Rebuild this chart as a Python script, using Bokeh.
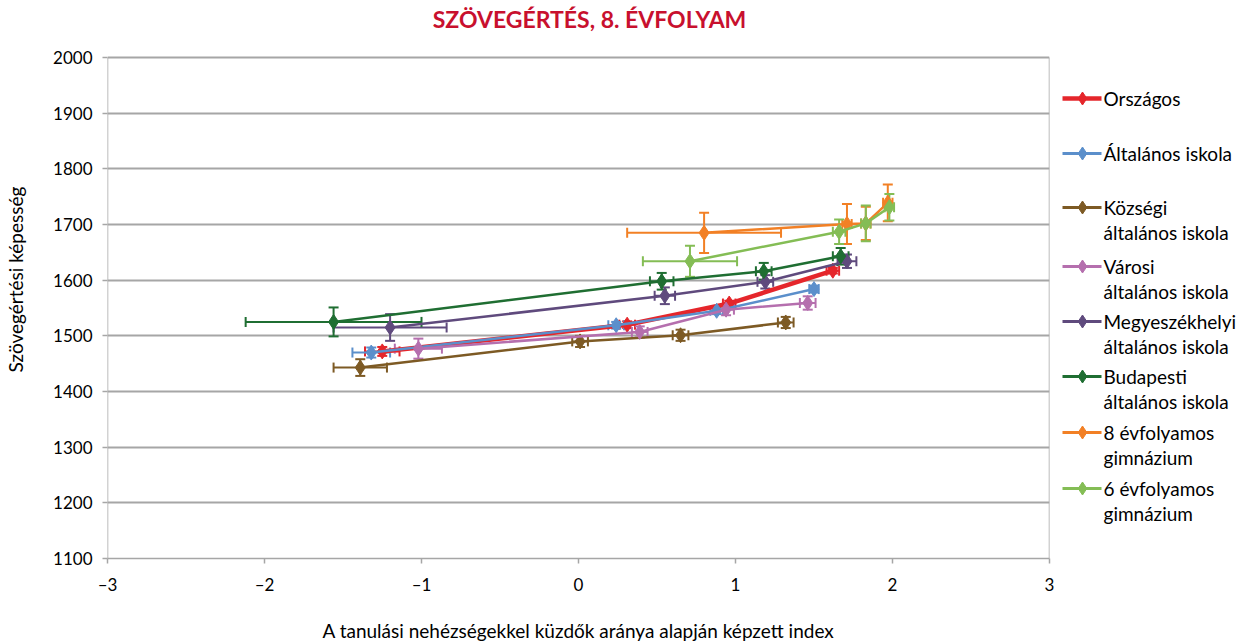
from bokeh.plotting import figure
from bokeh.layouts import row
from bokeh.models import (ColumnDataSource, Whisker, TeeHead, Range1d, FixedTicker)
from bokeh.core.properties import value
from bokeh.embed import file_html
from bokeh.resources import INLINE

# ---------------- data ----------------
series_names = ["Országos", "Általános iskola", "Községi általános iskola",
                "Városi általános iskola", "Megyeszékhelyi általános iskola",
                "Budapesti általános iskola", "8 évfolyamos gimnázium", "6 évfolyamos gimnázium"]
legend_lines = [["Országos"], ["Általános iskola"], ["Községi", "általános iskola"],
                ["Városi", "általános iskola"], ["Megyeszékhelyi", "általános iskola"],
                ["Budapesti", "általános iskola"], ["8 évfolyamos", "gimnázium"],
                ["6 évfolyamos", "gimnázium"]]
colors = ["#E5262B", "#5B8FCB", "#7D5A24", "#B56FAE", "#5F4A7D", "#1F6E32", "#F28025", "#84BD55"]

orszagos_x = [-1.25, 0.31, 0.96, 1.62]
orszagos_y = [1472, 1520, 1558, 1617]
orszagos_xerr = [0.11, 0.05, 0.04, 0.04]
orszagos_yerr = [8, 6, 5, 5]

altalanos_x = [-1.32, 0.24, 0.88, 1.50]
altalanos_y = [1470, 1519, 1545, 1584]
altalanos_xerr = [0.12, 0.05, 0.04, 0.03]
altalanos_yerr = [9, 6, 6, 6]

kozsegi_x = [-1.39, 0.01, 0.65, 1.32]
kozsegi_y = [1443, 1490, 1501, 1524]
kozsegi_xerr = [0.17, 0.05, 0.05, 0.05]
kozsegi_yerr = [15, 10, 10, 10]

varosi_x = [-1.02, 0.39, 0.94, 1.46]
varosi_y = [1477, 1507, 1547, 1559]
varosi_xerr = [0.15, 0.05, 0.05, 0.05]
varosi_yerr = [18, 10, 10, 12]

megyeszekhelyi_x = [-1.20, 0.55, 1.19, 1.71]
megyeszekhelyi_y = [1515, 1572, 1597, 1634]
megyeszekhelyi_xerr = [0.36, 0.065, 0.05, 0.06]
megyeszekhelyi_yerr = [24, 15, 12, 12]

budapesti_x = [-1.56, 0.53, 1.18, 1.67]
budapesti_y = [1525, 1598, 1616, 1643]
budapesti_xerr = [0.56, 0.075, 0.05, 0.05]
budapesti_yerr = [26, 15, 15, 15]

gimn8_x = [0.80, 1.71, 1.83, 1.97]
gimn8_y = [1685, 1701, 1702, 1739]
gimn8_xerr = [0.49, 0.03, 0.03, 0.03]
gimn8_yerr = [36, 36, 30, 33]

gimn6_x = [0.71, 1.66, 1.83, 1.98]
gimn6_y = [1634, 1687, 1702, 1731]
gimn6_xerr = [0.30, 0.04, 0.03, 0.03]
gimn6_yerr = [28, 22, 32, 24]

all_x = [orszagos_x, altalanos_x, kozsegi_x, varosi_x, megyeszekhelyi_x, budapesti_x, gimn8_x, gimn6_x]
all_y = [orszagos_y, altalanos_y, kozsegi_y, varosi_y, megyeszekhelyi_y, budapesti_y, gimn8_y, gimn6_y]
all_xerr = [orszagos_xerr, altalanos_xerr, kozsegi_xerr, varosi_xerr, megyeszekhelyi_xerr,
            budapesti_xerr, gimn8_xerr, gimn6_xerr]
all_yerr = [orszagos_yerr, altalanos_yerr, kozsegi_yerr, varosi_yerr, megyeszekhelyi_yerr,
            budapesti_yerr, gimn8_yerr, gimn6_yerr]
line_widths = [4.5, 2.5, 2.5, 2.5, 2.5, 2.5, 2.5, 2.5]

x_ticks = [-3, -2, -1, 0, 1, 2, 3]
x_tick_labels = ["–3", "–2", "–1", "0", "1", "2", "3"]
y_ticks = [1100, 1200, 1300, 1400, 1500, 1600, 1700, 1800, 1900, 2000]
x_min, x_max, y_min, y_max = -3, 3, 1100, 2000

title_text = "SZÖVEGÉRTÉS, 8. ÉVFOLYAM"
x_label = "A tanulási nehézségekkel küzdők aránya alapján képzett index"
y_label = "Szövegértési képesség"

FONT = "Lato"
FRAME_LEFT, FRAME_BOTTOM = 107, 86
AXIS_TOP_PX = 57          # page pixel where y = 2000 sits
MAIN_W, LEG_W, H = 1058, 183, 644
PLOT_H = H - FRAME_BOTTOM  # frame runs from page top down to the x axis
units_per_px = (y_max - y_min) / (PLOT_H - AXIS_TOP_PX)
y_top = y_max + AXIS_TOP_PX * units_per_px

# ---------------- main figure ----------------
p = figure(width=MAIN_W, height=H, output_backend="svg", toolbar_location=None,
           x_range=Range1d(x_min, x_max), y_range=Range1d(y_min, y_top),
           min_border_left=FRAME_LEFT, min_border_right=9,
           min_border_top=0, min_border_bottom=FRAME_BOTTOM)
p.outline_line_color = None
p.background_fill_color = "white"
p.border_fill_color = "white"

p.xgrid.visible = False
p.ygrid.grid_line_color = "#A6A6A6"
p.ygrid.grid_line_width = 2
p.ygrid.ticker = FixedTicker(ticks=y_ticks)

p.xaxis.ticker = FixedTicker(ticks=x_ticks)
p.xaxis.major_label_overrides = {t: l for t, l in zip(x_ticks, x_tick_labels)}
p.yaxis.ticker = FixedTicker(ticks=y_ticks)
for ax in (p.xaxis[0], p.yaxis[0]):
    ax.axis_line_color = "#A6A6A6"
    ax.axis_line_width = 1.5
    ax.major_tick_line_color = "#A6A6A6"
    ax.major_tick_line_width = 1.5
    ax.major_tick_in = 0
    ax.major_tick_out = 5
    ax.minor_tick_line_color = None
    ax.major_label_text_font = FONT
    ax.major_label_text_font_size = "17px"
    ax.major_label_text_color = "#000000"
    ax.axis_label_text_font = FONT
    ax.axis_label_text_font_size = "19px"
    ax.axis_label_text_font_style = "normal"
    ax.axis_label_text_color = "#000000"
p.yaxis.axis_line_color = None
p.xaxis.axis_label = x_label
p.yaxis.axis_label = y_label
p.xaxis.major_label_standoff = 10
p.xaxis.axis_label_standoff = 21
p.yaxis.major_label_standoff = 10
p.yaxis.axis_label_standoff = 23

# plot-area border (left and right edges) between y_min and y_max
p.segment(x0=[x_min, x_max], y0=[y_min, y_min], x1=[x_min, x_max], y1=[y_max, y_max],
          line_color="#A6A6A6", line_width=1.5)

# chart title, drawn as text above the plot area
p.text(x=[(589 - 578) / 156.8], y=[y_max + (AXIS_TOP_PX - 18) * units_per_px], text=[title_text],
       text_font=value(FONT), text_font_size="23px", text_font_style="bold",
       text_color="#C8102E", text_align="center", text_baseline="middle")

for i in range(len(series_names)):
    xs, ys, xe, ye = all_x[i], all_y[i], all_xerr[i], all_yerr[i]
    src = ColumnDataSource(dict(
        x=xs, y=ys,
        xl=[a - b for a, b in zip(xs, xe)], xu=[a + b for a, b in zip(xs, xe)],
        yl=[a - b for a, b in zip(ys, ye)], yu=[a + b for a, b in zip(ys, ye)],
    ))
    c = colors[i]
    p.line("x", "y", source=src, line_color=c, line_width=line_widths[i])
    wy = Whisker(source=src, base="x", lower="yl", upper="yu", dimension="height",
                 line_color=c, line_width=2,
                 lower_head=TeeHead(size=10, line_color=c, line_width=2),
                 upper_head=TeeHead(size=10, line_color=c, line_width=2))
    wx = Whisker(source=src, base="y", lower="xl", upper="xu", dimension="width",
                 line_color=c, line_width=2,
                 lower_head=TeeHead(size=10, line_color=c, line_width=2),
                 upper_head=TeeHead(size=10, line_color=c, line_width=2))
    p.add_layout(wy)
    p.add_layout(wx)
    p.scatter("x", "y", source=src, marker="diamond", size=15, fill_color=c, line_color=c)

# ---------------- legend figure (coordinates = page pixels) ----------------
lg = figure(width=LEG_W, height=H, output_backend="svg", toolbar_location=None,
            x_range=Range1d(MAIN_W, MAIN_W + LEG_W), y_range=Range1d(PLOT_H, 0),
            x_axis_location=None, y_axis_location=None,
            min_border_left=0, min_border_right=0,
            min_border_top=0, min_border_bottom=FRAME_BOTTOM)
lg.outline_line_color = None
lg.grid.visible = False

legend_y = [98, 153, 207, 266, 321, 376, 432, 488]
for i, lines in enumerate(legend_lines):
    yy = legend_y[i]
    c = colors[i]
    lg.line([1062, 1101], [yy, yy], line_color=c, line_width=line_widths[i] if i == 0 else 3)
    lg.scatter([1082], [yy], marker="diamond", size=13, fill_color=c, line_color=c)
    for j, t in enumerate(lines):
        lg.text([1103], [yy + 24.5 * j], text=[t], text_font=value(FONT), text_font_size="19px",
                text_baseline="middle", text_align="left", text_color="#000000")

layout = row(p, lg)
open("out.html", "w").write(file_html(layout, INLINE))
